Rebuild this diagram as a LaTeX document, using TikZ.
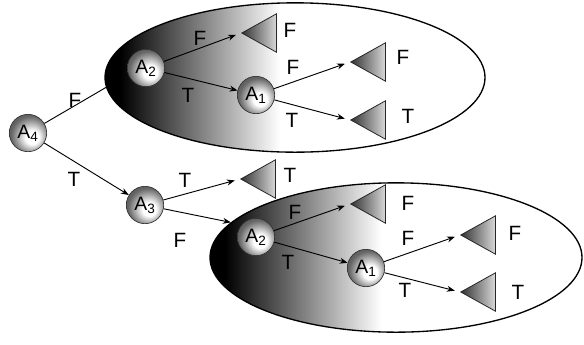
\documentclass[tikz,border=0pt]{standalone}
\usepackage{fontspec}
\setmainfont{Liberation Sans}
\usetikzlibrary{shapes.geometric, arrows.meta}
\pgfdeclarehorizontalshading{ovalfade}{100bp}{color(0bp)=(black); color(27bp)=(black); color(48bp)=(white); color(100bp)=(white)}
\pgfdeclareradialshading{knotball}{\pgfpoint{7bp}{-7bp}}{color(0bp)=(white); color(9bp)=(white); color(26bp)=(black!60); color(50bp)=(black!80)}
\tikzset{
  oval/.style={ellipse, draw, line width=1pt, shade, shading=ovalfade, minimum height=112pt, inner sep=0pt},
  knot/.style={circle, draw=black!80, line width=0.5pt, shade, shading=knotball, minimum size=28pt, inner sep=0pt, font=\fontsize{14.5}{16}\selectfont},
  leaf/.style={isosceles triangle, isosceles triangle apex angle=58, shape border rotate=180, minimum height=26pt, inner sep=0pt, draw=black!85, line width=0.6pt, left color=black!80, right color=black!15, anchor=apex},
  lab/.style={font=\fontsize{15.5}{17}\selectfont, inner sep=0pt},
  arr/.style={-{Stealth[length=6pt, width=4.5pt]}, line width=0.7pt},
  toleaf/.style={arr, shorten >=4pt},
}
\begin{document}
\begin{tikzpicture}[x=0.75pt, y=-0.75pt]
  \useasboundingbox (0,0) rectangle (584,344);
  % shaded groups
  \node[oval, minimum width=285pt] (upper) at (295,77.5) {};
  \node[oval, minimum width=279pt] (lower) at (396,257.5) {};

  % tests
  \node[knot] (a4) at (28,133) {A\textsubscript{4}};
  \node[knot] (a2u) at (146,68) {A\textsubscript{2}};
  \node[knot] (a1u) at (256,95) {A\textsubscript{1}};
  \node[knot] (a3) at (145,205) {A\textsubscript{3}};
  \node[knot] (a2l) at (256,237) {A\textsubscript{2}};
  \node[knot] (a1l) at (366,268) {A\textsubscript{1}};

  % leaves
  \node[leaf] (f1) at (241,33) {};
  \node[leaf] (f2) at (350,62) {};
  \node[leaf] (t1) at (350,120) {};
  \node[leaf] (t2) at (240,179) {};
  \node[leaf] (f3) at (350,204) {};
  \node[leaf] (f4) at (460,235) {};
  \node[leaf] (t3) at (460,292) {};

  % edges
  \draw[line width=0.7pt] (a4) -- (upper.183);
  \draw[arr] (a4) -- (a3);
  \draw[toleaf] (a2u) -- (f1.apex);
  \draw[arr] (a2u) -- (a1u);
  \draw[toleaf] (a1u) -- (f2.apex);
  \draw[toleaf] (a1u) -- (t1.apex);
  \draw[toleaf] (a3) -- (t2.apex);
  \draw[arr] (a3) -- (lower.168);
  \draw[toleaf] (a2l) -- (f3.apex);
  \draw[arr] (a2l) -- (a1l);
  \draw[toleaf] (a1l) -- (f4.apex);
  \draw[toleaf] (a1l) -- (t3.apex);

  % branch labels
  \node[lab] (b1) at (75,100) {F};
  \node[lab] (b2) at (74,179) {T};
  \node[lab] (b3) at (200,38) {F};
  \node[lab] (b4) at (188,95) {T};
  \node[lab] (b5) at (293,67) {F};
  \node[lab] (b6) at (292,120) {T};
  \node[lab] (b7) at (185,180) {T};
  \node[lab] (b8) at (180,240) {F};
  \node[lab] (b9) at (295,212) {F};
  \node[lab] (b10) at (288,262) {T};
  \node[lab] (b11) at (408,238) {F};
  \node[lab] (b12) at (405,290) {T};

  % leaf values
  \node[lab] (v1) at (290,30) {F};
  \node[lab] (v2) at (403,57) {F};
  \node[lab] (v3) at (408,116) {T};
  \node[lab] (v4) at (290,175) {T};
  \node[lab] (v5) at (408,203) {F};
  \node[lab] (v6) at (515,233) {F};
  \node[lab] (v7) at (518,292) {T};
\end{tikzpicture}
\end{document}
